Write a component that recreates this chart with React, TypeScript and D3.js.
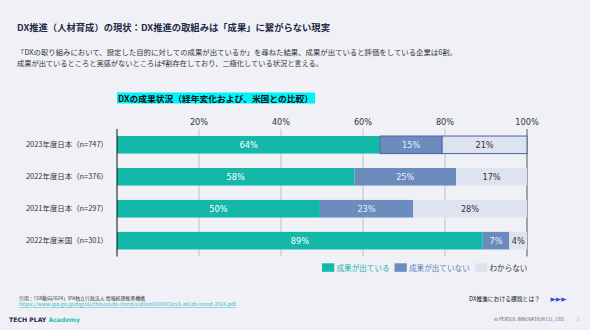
import React from "react";
import * as d3 from "d3";

const categories = ["2023年度日本（n=747）", "2022年度日本（n=376）", "2021年度日本（n=297）", "2022年度米国（n=301）"];
const seriesNames = ["成果が出ている", "成果が出ていない", "わからない"];
const achieved = [64.2, 57.9, 49.5, 89.2];
const notAchieved = [15.1, 24.8, 22.7, 6.5];
const unknown = [20.7, 17.3, 27.8, 4.3];
const valueLabels = [
  ["64%", "15%", "21%"],
  ["58%", "25%", "17%"],
  ["50%", "23%", "28%"],
  ["89%", "7%", "4%"],
];
const tickValues = [20, 40, 60, 80, 100];

const colors = ["#13b8a8", "#6d8cbe", "#dee4ef"];
const labelColors = ["#ffffff", "#e8eef8", "#333333"];
const legendTextColors = ["#13b0a0", "#5b7bb5", "#333333"];
const JP = "'Noto Sans CJK JP', 'Noto Sans', sans-serif";
const NUM = "'DejaVu Sans', 'Noto Sans CJK JP', sans-serif";

export default function App() {
  const W = 590, H = 330;
  const x = d3.scaleLinear().domain([0, 100]).range([117, 527]);
  const y = d3.scaleBand().domain(categories).range([129, 256.5]).paddingInner(0.45).paddingOuter(0.22);
  const stackData = categories.map((c, i) => ({ c, a: achieved[i], b: notAchieved[i], u: unknown[i] }));
  const stack = d3.stack<any>().keys(["a", "b", "u"])(stackData);
  const fit = { lengthAdjust: "spacingAndGlyphs" as const };

  return (
    <svg width={W} height={H} style={{ position: "absolute", left: 0, top: 0, background: "#eff1f6" }}>
      <rect x={0} y={0} width={W} height={H} fill="#eff1f6" />
      <text x={17} y={30.8} fontFamily={JP} fontWeight="bold" fontSize={8.9} fill="#1f2a44" textLength={313} {...fit}>DX推進（人材育成）の現状：DX推進の取組みは「成果」に繋がらない現実</text>
      <text x={17} y={54.8} fontFamily={JP} fontSize={6.9} fill="#333" textLength={440} {...fit}>「DXの取り組みにおいて、設定した目的に対しての成果が出ているか」を尋ねた結果、成果が出ていると評価をしている企業は6割。</text>
      <text x={17} y={66} fontFamily={JP} fontSize={6.9} fill="#333" textLength={306} {...fit}>成果が出ているところと実感がないところは4割存在しており、二極化している状況と言える。</text>

      <rect x={117} y={92.5} width={198} height={11} fill="#00f2fb" />
      <text x={118} y={101.5} fontFamily={JP} fontWeight="bold" fontSize={8.4} fill="#111" textLength={195} {...fit}>DXの成果状況（経年変化および、米国との比較）</text>

      {tickValues.map((t) => (
        <g key={t}>
          <line x1={x(t)} x2={x(t)} y1={129} y2={256.5} stroke={t === 100 ? "#555" : "#bdbdbd"} strokeWidth={t === 100 ? 1 : 0.9} />
          <text x={x(t)} y={125} textAnchor="middle" fontFamily={NUM} fontSize={8.2} fill="#333">{t}%</text>
        </g>
      ))}

      {stack.map((layer, si) => (
        <g key={si}>
          {layer.map((d, i) => {
            const x0 = x(d[0]), x1 = x(d[1]);
            const yy = y(categories[i])!;
            const h = y.bandwidth();
            const outlined = i === 0 && si > 0;
            return (
              <g key={i}>
                <rect x={x0} y={yy} width={x1 - x0} height={h} fill={colors[si]}
                  stroke={outlined ? "#4a65a6" : "none"} strokeWidth={outlined ? 1 : 0} />
                <text x={(x0 + x1) / 2} y={yy + h / 2 + 3} textAnchor="middle" fontFamily={NUM} fontSize={8.2} fill={labelColors[si]}>{valueLabels[i][si]}</text>
              </g>
            );
          })}
        </g>
      ))}

      <line x1={117} x2={117} y1={129} y2={256.5} stroke="#111" strokeWidth={1} />

      {categories.map((c) => (
        <text key={c} x={108} y={y(c)! + y.bandwidth() / 2 + 2.5} textAnchor="end" fontFamily={JP} fontSize={7.3} fill="#333" textLength={82} {...fit}>{c}</text>
      ))}

      {(() => {
        const xs = [322, 394.5, 475];
        return seriesNames.map((s, i) => (
          <g key={s}>
            <rect x={xs[i]} y={263.3} width={12.3} height={8.5} fill={colors[i]} />
            <text x={xs[i] + 14.5} y={270.5} fontFamily={JP} fontSize={7.6} fill={legendTextColors[i]}>{s}</text>
          </g>
        ));
      })()}

      <text x={19} y={300} fontFamily={JP} fontSize={4.8} fill="#333" textLength={126} {...fit}>引用：「DX動向2024」IPA独立行政法人 情報処理推進機構</text>
      <text x={19} y={306} fontFamily={JP} fontSize={4.8} fill="#3bb8c8" textDecoration="underline" textLength={217} {...fit}>https://www.ipa.go.jp/digital/chousa/dx-trend/eid2eo0000002cs5-att/dx-trend-2024.pdf</text>

      <text x={9} y={322} fontFamily="'DejaVu Sans', sans-serif" fontWeight="bold" fontSize={6.2} fill="#1f2a44" textLength={71} {...fit}>
        TECH PLAY <tspan fill="#2bbfae">Academy</tspan>
      </text>

      <text x={469} y={301} fontFamily={JP} fontSize={6.2} fill="#222" textLength={71} {...fit}>DX推進における課題とは？</text>
      <text x={550.5} y={301} fontFamily={NUM} fontSize={5.5} fill="#3848d8" textLength={16} {...fit}>▶▶▶</text>
      <text x={494} y={321} fontFamily={JP} fontSize={4.4} fill="#555" textLength={71} {...fit}>© PERSOL INNOVATION CO., LTD.</text>
      <text x={577} y={321} fontFamily={JP} fontSize={4.4} fill="#999">5</text>
    </svg>
  );
}
